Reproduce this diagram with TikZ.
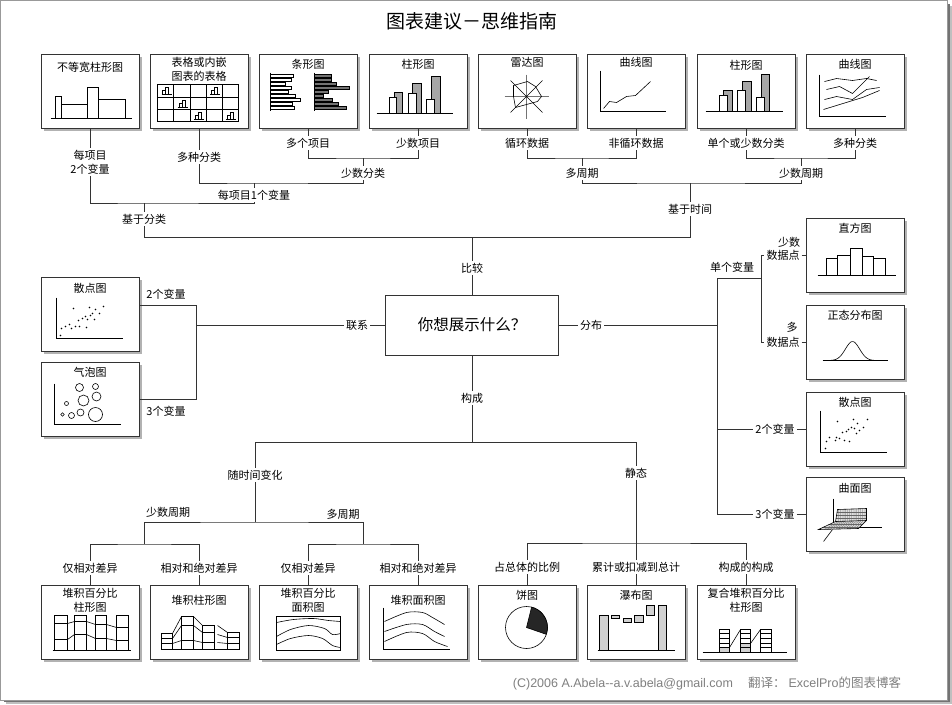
\documentclass[tikz,border=0pt]{standalone}
\usepackage{fontspec}
\setmainfont{Noto Sans CJK SC}
\newfontfamily\latinfont{Liberation Sans}
\usetikzlibrary{positioning,shadows}
\newcommand{\minibars}[2]{%
  \draw[pict, line width=0.4pt] (#1,#2) -- ++(10,0);
  \draw[barw, line width=0.4pt] (#1+1,#2) rectangle ++(3,-4);
  \draw[barw, line width=0.4pt] (#1+4,#2) rectangle ++(3,-7);}
\tikzset{
  wire/.style={draw=black!80, line width=0.8pt},
  chartbox/.style={draw=black!80, line width=1pt, fill=white,
                   minimum width=98pt, minimum height=74pt, inner sep=0pt,
                   drop shadow={shadow xshift=3pt, shadow yshift=-3pt,
                                fill=black!30, opacity=1}},
  askbox/.style={draw=black!80, line width=1pt, fill=white,
                 minimum width=173pt, minimum height=60pt,
                 font=\fontsize{15.5}{18}\selectfont},
  boxtitle/.style={inner sep=0pt, align=center, font=\fontsize{11}{14}\selectfont},
  lab/.style={inner sep=2pt, align=center, font=\fontsize{11}{14}\selectfont},
  pict/.style={black, line width=0.6pt},
  barw/.style={pict, fill=white},
  barg/.style={pict, fill=black!35},
  bard/.style={pict, fill=black!55},
  barl/.style={pict, fill=black!18},
  scatdot/.style={fill=black, radius=0.8pt},
}

\begin{document}
\begin{tikzpicture}[x=1pt,y=-1pt]
  \path[use as bounding box] (0,0) rectangle (952,704);

  % page frame
  \fill[black!25] (6,6) rectangle (952,704);
  \fill[black!55] (4,4) rectangle (950,702);
  \fill[white] (0,0) rectangle (947,700);
  \draw[black!40, line width=1pt] (0.5,0.5) rectangle (947,700);

  \node[font=\fontsize{19}{22}\selectfont] (title) at (472,21) {图表建议－思维指南};
  \node[askbox] (ask) at (472,325) {你想展示什么？};

  % comparison charts
  \node[chartbox] (unequal) at (90,91) {};
  \node[boxtitle, below=8.5pt of unequal.north] {不等宽柱形图};
  \node[chartbox] (table) at (199,91) {};
  \node[boxtitle, below=3.5pt of table.north] {表格或内嵌\\图表的表格};
  \node[chartbox] (bars) at (308,91) {};
  \node[boxtitle, below=5.5pt of bars.north] {条形图};
  \node[chartbox] (cols) at (418,91) {};
  \node[boxtitle, below=5.5pt of cols.north] {柱形图};
  \node[chartbox] (radar) at (527,91) {};
  \node[boxtitle, below=3.5pt of radar.north] {雷达图};
  \node[chartbox] (trend) at (636,91) {};
  \node[boxtitle, below=3.5pt of trend.north] {曲线图};
  \node[chartbox] (timecols) at (746,91) {};
  \node[boxtitle, below=6.5pt of timecols.north] {柱形图};
  \node[chartbox] (lines) at (855,91) {};
  \node[boxtitle, below=5.5pt of lines.north] {曲线图};

  % relationship charts
  \node[chartbox] (scatterL) at (90,314) {};
  \node[boxtitle, below=6.5pt of scatterL.north] {散点图};
  \node[chartbox] (bubble) at (90,399) {};
  \node[boxtitle, below=5.5pt of bubble.north] {气泡图};

  % distribution charts
  \node[chartbox] (hist) at (855,255) {};
  \node[boxtitle, below=5.5pt of hist.north] {直方图};
  \node[chartbox] (normal) at (855,342) {};
  \node[boxtitle, below=5.5pt of normal.north] {正态分布图};
  \node[chartbox] (scatterR) at (855,429) {};
  \node[boxtitle, below=5.5pt of scatterR.north] {散点图};
  \node[chartbox] (surface) at (855,514) {};
  \node[boxtitle, below=6.5pt of surface.north] {曲面图};

  % composition charts
  \node[chartbox] (pctcols) at (90,622) {};
  \node[boxtitle, below=3.5pt of pctcols.north] {堆积百分比\\柱形图};
  \node[chartbox] (stackcols) at (199,622) {};
  \node[boxtitle, below=10.5pt of stackcols.north] {堆积柱形图};
  \node[chartbox] (pctarea) at (308,622) {};
  \node[boxtitle, below=3.5pt of pctarea.north] {堆积百分比\\面积图};
  \node[chartbox] (stackarea) at (418,622) {};
  \node[boxtitle, below=10.5pt of stackarea.north] {堆积面积图};
  \node[chartbox] (pie) at (527,622) {};
  \node[boxtitle, below=5.5pt of pie.north] {饼图};
  \node[chartbox] (waterfall) at (636,622) {};
  \node[boxtitle, below=5.5pt of waterfall.north] {瀑布图};
  \node[chartbox] (subpct) at (746,622) {};
  \node[boxtitle, below=3.5pt of subpct.north] {复合堆积百分比\\柱形图};

  % pictograms
  \begin{scope}[shift={(unequal.north west)}]
    \draw[pict] (10,65) -- (91,65);
    \draw[barw] (15,65) rectangle (21,43);
    \draw[barw] (21,65) rectangle (47,51);
    \draw[barw] (47,65) rectangle (58,34);
    \draw[barw] (58,65) rectangle (85,46);
  \end{scope}
  \begin{scope}[shift={(table.north west)}]
    \draw[pict] (8,31) rectangle (89,68);
    \draw[pict] (24.2,31) -- (24.2,68) (40.4,31) -- (40.4,68)
      (56.6,31) -- (56.6,68) (72.8,31) -- (72.8,68);
    \draw[pict] (8,43.3) -- (89,43.3) (8,55.7) -- (89,55.7);
    \minibars{12}{41}
    \minibars{60.6}{41}
    \minibars{28.2}{53.3}
    \minibars{44.4}{65.7}
    \minibars{76.8}{65.7}
  \end{scope}
  \begin{scope}[shift={(bars.north west)}]
    \foreach \y/\a/\b in {21/35/73,25/33/73,29/27/78,33/33/91,37/30/70,
                          41/37/65,45/42/74,49/34/80,53/36/88}
      {\draw[barw, line width=0.4pt] (12,\y) rectangle (\a,\y+3);
       \draw[bard, line width=0.4pt] (56,\y) rectangle (\b,\y+3);}
    \draw[pict] (12,19) -- (12,57) (56,19) -- (56,57);
  \end{scope}
  \begin{scope}[shift={(cols.north west)}]
    \draw[pict] (8,60) -- (84,60);
    \draw[barg] (26,60) rectangle (34,39);
    \draw[barw] (21,60) rectangle (28,44);
    \draw[barg] (44,60) rectangle (53,30);
    \draw[barw] (40,60) rectangle (48,40);
    \draw[barg] (63,60) rectangle (72,23);
    \draw[barw] (58,60) rectangle (66,46);
  \end{scope}
  \begin{scope}[shift={(radar.north west)}]
    \draw[black!55, line width=1.2pt] (27,43) -- (71,43) (49,21) -- (49,65);
    \draw[pict] (33,27) -- (65,59) (65,27) -- (33,59);
    \draw[pict] (36,32) -- (50,28) -- (58,33) -- (64,43) -- (60,48)
      -- (38,54) -- (36,43) -- cycle;
  \end{scope}
  \begin{scope}[shift={(trend.north west)}]
    \draw[pict] (14,17) -- (14,58) -- (79,58);
    \draw[pict] (17,55) -- (23,48) -- (30,49) -- (40,43) -- (49,42) -- (64,28);
  \end{scope}
  \begin{scope}[shift={(timecols.north west)}]
    \draw[pict] (9,58) -- (86,58);
    \draw[barg] (27,58) rectangle (36,37);
    \draw[barw] (23,58) rectangle (31,42);
    \draw[barg] (46,58) rectangle (55,28);
    \draw[barw] (41,58) rectangle (49,37);
    \draw[barg] (65,58) rectangle (73,21);
    \draw[barw] (60,58) rectangle (68,44);
  \end{scope}
  \begin{scope}[shift={(lines.north west)}]
    \draw[pict] (14,21) -- (14,63) -- (80,63);
    \draw[pict] (19,28) -- (31,25) -- (47,27) -- (61,25) -- (71,27);
    \draw[pict] (21,36) -- (34,33) -- (47,40) -- (64,23);
    \draw[pict] (19,46) -- (31,43) -- (47,46) -- (61,36) -- (74,34);
    \draw[pict] (18,56) -- (31,52) -- (44,48) -- (57,44) -- (74,37);
  \end{scope}
  \begin{scope}[shift={(scatterL.north west)}]
    \draw[pict] (16,21) -- (16,62) -- (82,62);
    \foreach \x/\y in {33/32,21/52,25/50,29/48,31/52,35/50,39/50,38/44,42/42,45/40,
                       47/43,49/31,50/39,52/37,54/43,55/33,59/37,63/30,46/51,20/59}
      \fill[scatdot] (\x,\y) circle;
  \end{scope}
  \begin{scope}[shift={(bubble.north west)}]
    \draw[pict] (14,22) -- (14,63) -- (80,63);
    \foreach \x/\y/\r in {39/26/4,55/25/3,43/39/5.5,56/35/4.5,26/42/2,
                          22/53/1.7,31/54/3,40/51/3.5,55/53/7}
      \draw[pict] (\x,\y) circle[radius=\r pt];
  \end{scope}
  \begin{scope}[shift={(hist.north west)}]
    \draw[pict] (12,58) -- (90,58);
    \draw[barw] (21,58) rectangle (32,41);
    \draw[barw] (32,58) rectangle (45,38);
    \draw[barw] (45,58) rectangle (57,31);
    \draw[barw] (57,58) rectangle (68,39);
    \draw[barw] (68,58) rectangle (80,41);
  \end{scope}
  \begin{scope}[shift={(normal.north west)}]
    \draw[pict] (17,56) -- (82,56);
    \draw[pict] plot[domain=20:74, samples=50, smooth]
      (\x,{56-19*exp(0-((\x-47)/10)*((\x-47)/10))});
  \end{scope}
  \begin{scope}[shift={(scatterR.north west)}]
    \draw[pict] (15,19) -- (15,61) -- (81,61);
    \foreach \x/\y in {32/30,20/57,21/50,24/46,30/49,31/46,34/47,37/41,39/49,41/40,
                       43/38,44/50,46/36,48/28,49/37,51/42,52/32,54/39,58/36,62/28}
      \fill[scatdot] (\x,\y) circle;
  \end{scope}
  \begin{scope}[shift={(surface.north west)}]
    \draw[pict] (28,22) -- (28,46);
    \draw[pict] (53,51) -- (76,51);
    \draw[pict] (18,65) -- (27,53);
    \begin{scope}
      \clip (32,33) -- (61,32) -- (61,44) -- (53,52) -- (13,53) -- (30,45) -- cycle;
      \fill[black!12] (10,30) rectangle (65,55);
      \foreach \k in {0,...,13}
        \draw[black!60, line width=0.3pt] (33+2.2*\k,30) -- (33+2.2*\k,45) -- (15+2.9*\k,55);
      \foreach \yy in {36,39,42,48,51}
        \draw[black!60, line width=0.3pt] (10,\yy) -- (62,\yy);
    \end{scope}
    \draw[pict] (32,33) -- (61,32) -- (61,44) -- (53,52) -- (13,53) -- (30,45) -- cycle;
    \draw[pict] (30,45) -- (61,44);
  \end{scope}
  \begin{scope}[shift={(pctcols.north west)}]
    \draw[pict] (12,66) -- (90,66);
    \draw[barw] (14,31) rectangle (27,66);
    \draw[barw] (34,31) rectangle (46,66);
    \draw[barw] (55,31) rectangle (66,66);
    \draw[barw] (76,31) rectangle (88,66);
    \draw[pict] (14,39) -- (27,39) -- (34,37) -- (46,37) -- (55,40) -- (66,40)
      -- (76,43) -- (88,43);
    \draw[pict] (14,55) -- (27,55) -- (34,50) -- (46,50) -- (55,54) -- (66,54)
      -- (76,56) -- (88,56);
  \end{scope}
  \begin{scope}[shift={(stackcols.north west)}]
    \draw[pict] (12,65) -- (90,65);
    \draw[barw] (12,49) rectangle (23,65);
    \draw[barw] (32,32) rectangle (44,65);
    \draw[barw] (53,41) rectangle (65,65);
    \draw[barw] (78,48) rectangle (90,65);
    \draw[pict] (12,54) -- (23,54) -- (32,41) -- (44,41) -- (53,48) -- (65,48);
    \draw[pict] (12,59) -- (23,59) -- (32,56) -- (44,56) -- (53,58) -- (65,58);
    \draw[pict] (23,49) -- (32,32) (44,32) -- (53,41);
    \draw[pict] (68,41) -- (78,48) (68,50) -- (78,53) -- (90,53)
      (68,58) -- (78,59) -- (90,59);
  \end{scope}
  \begin{scope}[shift={(pctarea.north west)}]
    \draw[pict] (18,32) rectangle (82,66);
    \draw[pict] plot[smooth] coordinates {(18,38) (35,35) (55,34) (70,36) (82,37)};
    \draw[pict] plot[smooth] coordinates {(18,52) (32,45) (50,41) (66,44) (74,50) (82,49)};
    \draw[pict] plot[smooth] coordinates {(18,60) (32,54) (50,51) (64,54) (74,61) (82,63)};
  \end{scope}
  \begin{scope}[shift={(stackarea.north west)}]
    \draw[pict] (15,23) -- (15,65) -- (81,65);
    \draw[pict] plot[smooth] coordinates {(16,37) (38,28) (54,28) (64,33) (76,40)};
    \draw[pict] plot[smooth] coordinates {(16,47) (38,40) (54,40) (66,47) (76,52)};
    \draw[pict] plot[smooth] coordinates {(16,57) (38,48) (54,49) (66,57) (79,62)};
  \end{scope}
  \begin{scope}[shift={(pie.north west)}]
    \draw[pict, fill=white] (49,43) circle[radius=21pt];
    \filldraw[pict, fill=black!85] (49,43) -- ++(-19:21pt)
      arc[start angle=-19, end angle=76, radius=21pt] -- cycle;
  \end{scope}
  \begin{scope}[shift={(waterfall.north west)}]
    \draw[pict] (11,66) -- (88,66);
    \draw[barl] (13,31) rectangle (22,66);
    \draw[barl] (25,31) rectangle (33,34);
    \draw[barl] (37,34) rectangle (45,38);
    \draw[barl] (48,31) rectangle (57,38);
    \draw[barl] (60,21) rectangle (68,31);
    \draw[barl] (72,21) rectangle (80,66);
  \end{scope}
  \begin{scope}[shift={(subpct.north west)}]
    \draw[pict] (6,68) -- (90,68);
    \fill[black!18] (23,63) rectangle (33,68) (44,59) rectangle (54,68);
    \draw[pict] (23,45) rectangle (33,68) (44,45) rectangle (54,68) (64,45) rectangle (75,68);
    \foreach \yy in {49,54,59,63}
      \draw[pict] (23,\yy) -- (33,\yy) (44,\yy) -- (54,\yy) (64,\yy) -- (75,\yy);
    \draw[pict] (33,63) -- (44,45) (54,59) -- (64,45);
  \end{scope}

  % comparison branch
  \node[lab] (l1) at (90,162) {每项目\\2个变量};
  \node[lab] (l2) at (199,157) {多种分类};
  \node[lab] (l3) at (308,143) {多个项目};
  \node[lab] (l4) at (418,143) {少数项目};
  \node[lab] (l34) at (363,173) {少数分类};
  \node[lab] (l234) at (254,195) {每项目1个变量};
  \node[lab] (lcat) at (144,219) {基于分类};
  \node[lab] (l5) at (527,143) {循环数据};
  \node[lab] (l6) at (636,143) {非循环数据};
  \node[lab] (l56) at (582,173) {多周期};
  \node[lab] (l7) at (746,143) {单个或少数分类};
  \node[lab] (l8) at (855,143) {多种分类};
  \node[lab] (l78) at (801,173) {少数周期};
  \node[lab] (ltime) at (690,209) {基于时间};
  \node[lab] (lcmp) at (472,268) {比较};
  \coordinate (j34) at (363,158);
  \coordinate (j234) at (254,183);
  \coordinate (jcat) at (144,203);
  \coordinate (j56) at (582,158);
  \coordinate (j78) at (801,158);
  \coordinate (jtime) at (690,183);
  \coordinate (jcmp) at (472,237);
  \draw[wire] (unequal) -- (l1);
  \draw[wire] (table) -- (l2);
  \draw[wire] (bars) -- (l3);
  \draw[wire] (cols) -- (l4);
  \draw[wire] (l3) |- (j34) -| (l4);
  \draw[wire] (j34) -- (l34);
  \draw[wire] (l2) |- (j234) -| (l34);
  \draw[wire] (j234) -- (l234);
  \draw[wire] (l234) |- (jcat) -| (l1);
  \draw[wire] (jcat) -- (lcat);
  \draw[wire] (radar) -- (l5);
  \draw[wire] (trend) -- (l6);
  \draw[wire] (timecols) -- (l7);
  \draw[wire] (lines) -- (l8);
  \draw[wire] (l5) |- (j56) -| (l6);
  \draw[wire] (j56) -- (l56);
  \draw[wire] (l7) |- (j78) -| (l8);
  \draw[wire] (j78) -- (l78);
  \draw[wire] (l56) |- (jtime) -| (l78);
  \draw[wire] (jtime) -- (ltime);
  \draw[wire] (lcat) |- (jcmp);
  \draw[wire] (ltime) |- (jcmp);
  \draw[wire] (jcmp) -- (lcmp);
  \draw[wire] (lcmp) -- (ask);

  % relationship branch
  \node[lab] (lrel) at (357,325) {联系};
  \node[lab] (lv2) at (166,294) {2个变量};
  \node[lab] (lv3) at (166,411) {3个变量};
  \coordinate (jrel) at (196,325);
  \draw[wire] (ask) -- (lrel);
  \draw[wire] (lrel) -- (jrel);
  \draw[wire] (jrel) |- ([yshift=9pt]scatterL.east);
  \draw[wire] (jrel) |- (bubble.east);

  % distribution branch
  \node[lab] (ldist) at (591,325) {分布};
  \node[lab] (lsingle) at (732,267) {单个变量};
  \node[lab, inner sep=1pt] (lfewA) at (789,242) {少数};
  \node[lab] (lfewB) at (783,255) {数据点};
  \node[lab, inner sep=1pt] (lmanyA) at (792,327) {多};
  \node[lab] (lmanyB) at (783,342) {数据点};
  \node[lab] (ld2) at (775,429) {2个变量};
  \node[lab] (ld3) at (775,514) {3个变量};
  \coordinate (jdist) at (717,325);
  \coordinate (jsingle) at (761,278);
  \draw[wire] (ask) -- (ldist);
  \draw[wire] (ldist) -- (jdist);
  \draw[wire] (jdist) |- (jsingle);
  \draw[wire] (jdist) |- (ld2);
  \draw[wire] (jdist) |- (ld3);
  \draw[wire] (jsingle) |- (lfewB);
  \draw[wire] (jsingle) |- (lmanyB);
  \draw[wire] (lfewB) -- (hist);
  \draw[wire] (lmanyB) -- (normal);
  \draw[wire] (ld2) -- (scatterR);
  \draw[wire] (ld3) -- (surface);

  % composition branch
  \node[lab] (lcomp) at (472,398) {构成};
  \node[lab] (lchange) at (255,475) {随时间变化};
  \node[lab] (lstatic) at (636,473) {静态};
  \node[lab] (lfewper) at (168,512) {少数周期};
  \node[lab] (lmanyper) at (343,514) {多周期};
  \node[lab] (lr1) at (90,568) {仅相对差异};
  \node[lab] (la1) at (199,568) {相对和绝对差异};
  \node[lab] (lr2) at (308,568) {仅相对差异};
  \node[lab] (la2) at (418,568) {相对和绝对差异};
  \node[lab] (lpart) at (527,567) {占总体的比例};
  \node[lab] (lcum) at (636,567) {累计或扣减到总计};
  \node[lab] (lcons) at (746,567) {构成的构成};
  \coordinate (jcomp) at (472,442);
  \coordinate (jchange) at (255,522);
  \coordinate (jfew) at (144,544);
  \coordinate (jmany) at (363,544);
  \coordinate (jstat) at (636,543);
  \draw[wire] (ask) -- (lcomp);
  \draw[wire] (lcomp) -- (jcomp);
  \draw[wire] (jcomp) -| (lchange);
  \draw[wire] (jcomp) -| (lstatic);
  \draw[wire] (lchange) -- (jchange);
  \draw[wire] (jfew) |- (jchange) -| (jmany);
  \draw[wire] (lr1) |- (jfew) -| (la1);
  \draw[wire] (lr2) |- (jmany) -| (la2);
  \draw[wire] (lstatic) -- (lcum);
  \draw[wire] (lpart) |- (jstat) -| (lcons);
  \draw[wire] (lr1) -- (pctcols);
  \draw[wire] (la1) -- (stackcols);
  \draw[wire] (lr2) -- (pctarea);
  \draw[wire] (la2) -- (stackarea);
  \draw[wire] (lpart) -- (pie);
  \draw[wire] (lcum) -- (waterfall);
  \draw[wire] (lcons) -- (subpct);

  \node[text=black!50, font=\fontsize{12.5}{15}\selectfont] (credit) at (707,683)
    {{\latinfont (C)2006 A.Abela--a.v.abela@gmail.com}\hspace{15pt}翻译：\hspace{3pt}{\latinfont ExcelPro}的图表博客};
\end{tikzpicture}
\end{document}
